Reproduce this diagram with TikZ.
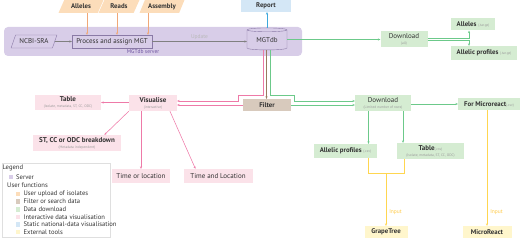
\documentclass[tikz,border=0pt]{standalone}
\usepackage{fontspec}
\setmainfont{PT Sans}
\usetikzlibrary{shapes.geometric,arrows.meta,positioning,calc}

\definecolor{srvfill}{HTML}{D8CDE8}
\definecolor{srvdraw}{HTML}{8A7AA6}
\definecolor{srvtext}{HTML}{6F55A0}
\definecolor{upfill}{HTML}{FCDDBA}
\definecolor{upline}{HTML}{F0A878}
\definecolor{fltfill}{HTML}{D8CABD}
\definecolor{fltline}{HTML}{9A7A60}
\definecolor{dlfill}{HTML}{D5ECD2}
\definecolor{dlline}{HTML}{6CC98A}
\definecolor{visfill}{HTML}{FBE2E9}
\definecolor{visline}{HTML}{EE7AA8}
\definecolor{repfill}{HTML}{D4E7F6}
\definecolor{repline}{HTML}{3DA8DC}
\definecolor{extfill}{HTML}{FFF6CC}
\definecolor{extline}{HTML}{FFD650}
\definecolor{txt}{HTML}{333333}
\definecolor{subgray}{HTML}{9A9A9A}

\newcommand{\smalltxt}[1]{{\fontsize{3.6pt}{4pt}\selectfont\mdseries\color{subgray}#1}}

\tikzset{
  lbl/.style={font=\fontsize{7pt}{7.5pt}\selectfont, text=txt, align=center, inner sep=0pt},
  hd/.style={font=\fontsize{6.8pt}{7.3pt}\selectfont\bfseries},
  box/.style={lbl, rectangle, minimum height=13pt},
  slant/.style={lbl, trapezium, trapezium left angle=55, trapezium right angle=125,
    trapezium stretches=true, minimum height=13pt},
  srvbox/.style={box, draw=srvdraw, fill=srvfill, line width=0.4pt},
  srvslant/.style={slant, draw=srvdraw, fill=srvfill, line width=0.4pt},
  upbox/.style={slant, hd, fill=upfill},
  fltbox/.style={box, hd, fill=fltfill},
  dlbox/.style={box, fill=dlfill},
  visbox/.style={box, fill=visfill},
  repbox/.style={box, hd, fill=repfill},
  extbox/.style={box, hd, fill=extfill},
  dbcyl/.style={lbl, cylinder, shape border rotate=90, aspect=0.18, draw=srvdraw,
    fill=srvfill, line width=0.4pt, minimum width=40pt, minimum height=22pt},
  band/.style={rectangle, rounded corners=4pt, fill=srvfill, minimum width=298pt,
    minimum height=29pt},
  note/.style={font=\fontsize{5.5pt}{6pt}\selectfont, inner sep=1pt},
  link/.style={line width=0.55pt, -{Stealth[length=2.4pt,width=2.2pt]}},
  plain/.style={line width=0.55pt},
  legsq/.style={rectangle, minimum size=4.5pt, inner sep=0pt},
  legtxt/.style={font=\fontsize{6.6pt}{7pt}\selectfont, inner sep=1pt, text=txt, anchor=west},
}

\begin{document}
\begin{tikzpicture}[x=1pt,y=-1pt]
\useasboundingbox (0,0) rectangle (520,238);

% server
\node[band] (server) at (153,41.5) {};
\node[note, text=srvtext] (serverlbl) at (143,52) {MGTdb server};

% uploads
\node[upbox, minimum width=45pt] (alleles) at (81,6.5) {Alleles};
\node[upbox, minimum width=41pt] (reads) at (119,6.5) {Reads};
\node[upbox, minimum width=45pt] (assembly) at (162,6.5) {Assembly};

\node[srvslant, minimum width=46pt] (ncbi) at (34,41.5) {NCBI-SRA};
\node[srvbox, minimum width=80pt] (process) at (112,41.5) {Process and assign MGT};
\node[dbcyl] (mgtdb) at (267,40) {MGTdb};
\node[repbox, minimum width=50pt] (report) at (266,5.5) {Report};

% downloads of everything
\node[dlbox, minimum width=47pt, minimum height=16pt] (dlall) at (404,39.5) {Download\\[-1.5pt]\smalltxt{(all)}};
\node[dlbox, hd, minimum width=44pt, minimum height=12pt] (allelestar) at (473,24.5) {Alleles \smalltxt{(.tar.gz)}};
\node[dlbox, hd, minimum width=66pt, minimum height=14pt] (profilestar) at (484,53) {Allelic profiles \smalltxt{(.tar.gz)}};

% filter and visualise
\node[fltbox, minimum width=48pt, minimum height=12pt] (filter) at (267,105) {Filter};
\node[visbox, minimum width=48pt, minimum height=16pt] (vis) at (153,103) {\textbf{Visualise}\\[-1.5pt]\smalltxt{(interactive)}};
\node[visbox, minimum width=66pt, minimum height=15pt] (tablevis) at (68,102.5) {\textbf{Table}\\[-1.5pt]\smalltxt{(Isolate, metadata, ST, CC, ODC)}};
\node[visbox, minimum width=88pt, minimum height=16pt] (breakdown) at (77,143) {\textbf{ST, CC or ODC breakdown}\\[-1.5pt]\smalltxt{(Metadata independent)}};
\node[visbox, minimum width=58pt, minimum height=14pt] (timeor) at (141,176) {Time or location};
\node[visbox, minimum width=69pt, minimum height=14pt] (timeand) at (218,176) {Time and Location};

% limited downloads
\node[dlbox, minimum width=56pt, minimum height=16pt] (dllim) at (383,103) {Download\\[-1.5pt]\smalltxt{(Limited number of rows)}};
\node[dlbox, hd, minimum width=62pt, minimum height=12pt] (micro) at (489,104) {For Microreact\smalltxt{(.csv)}};
\node[dlbox, hd, minimum width=63pt, minimum height=14pt] (profcsv) at (345.5,151) {Allelic profiles \smalltxt{(.csv)}};
\node[dlbox, minimum width=67pt, minimum height=16pt] (tablecsv) at (430.5,151) {\textbf{Table}\smalltxt{(.csv)}\\[-1.5pt]\smalltxt{(Isolate, metadata, ST, CC, ODC)}};

% external tools
\node[extbox, minimum width=43pt, minimum height=12pt] (grape) at (386,232) {GrapeTree};
\node[extbox, minimum width=49pt, minimum height=12pt] (microreact) at (487,232) {MicroReact};

% connectors
\draw[link, upline] ([xshift=6pt]alleles.south) -- ([xshift=6pt]alleles.south |- process.north);
\draw[link, upline] ([xshift=-2pt]reads.south) -- ([xshift=-2pt]reads.south |- process.north);
\draw[link, upline] ([xshift=-14pt]assembly.south) -- ([xshift=-14pt]assembly.south |- process.north);
\draw[link, gray] (ncbi) -- (process);
\draw[link, gray] (process.east) -- node[note, above=1pt, text=gray!55] {Update} (process.east -| mgtdb.west);
\draw[link, repline] (mgtdb.north) -- (mgtdb.north |- report.south);
\draw[link, dlline] (mgtdb.east |- dlall.west) -- (dlall.west);

\coordinate (jn) at (469,39.5);
\draw[link, dlline] ([yshift=1pt]dlall.east) -- ([yshift=1pt]jn) -- (jn |- allelestar.south);
\draw[link, dlline] ([yshift=-1pt]dlall.east) -- ([yshift=-1pt]jn) -- (jn |- profilestar.north);

\draw[link, fltline] ([xshift=-0.5pt]mgtdb.south) -- ([xshift=-0.5pt]mgtdb.south |- filter.north);

\coordinate (pk1) at (263,95);
\coordinate (pk2) at (238,101);
\draw[link, visline] (pk1 |- mgtdb.south) -- (pk1) -| (pk2) -- (pk2 -| vis.east);
\draw[link, visline] (filter.west) -- (filter.west -| vis.east);

\coordinate (gk1) at (270,95);
\coordinate (gk2) at (294,101);
\draw[link, dlline] (gk1 |- mgtdb.south) -- (gk1) -| (gk2) -- (gk2 -| dllim.west);
\draw[link, dlline] (filter.east) -- (filter.east -| dllim.west);

\draw[link, visline] (vis.west |- tablevis.east) -- (tablevis.east);
\draw[link, visline] (vis.south west) -- ($(breakdown.north)!0.62!(breakdown.north east)$);
\draw[link, visline] (timeor.north |- vis.south) -- (timeor.north);
\draw[link, visline] ($(vis.south)!0.7!(vis.south east)$) -- ($(timeand.north west)!0.35!(timeand.north)$);

\draw[link, dlline] (dllim.east |- micro.west) -- (micro.west);
\coordinate (pa) at (368.5,0);
\coordinate (ta) at (403,0);
\draw[link, dlline] (pa |- dllim.south) -- (pa |- profcsv.north);
\draw[link, dlline] (ta |- dllim.south) -- (ta |- tablecsv.north);

\coordinate (yj1) at (368.5,173);
\coordinate (yj2) at (404,173);
\coordinate (yj) at (386,173);
\draw[plain, extline] (yj1 |- profcsv.south) -- (yj1) -- (yj2) -- (yj2 |- tablecsv.south);
\draw[link, extline] (yj) -- node[note, pos=0.74, right=2pt, text=extline!85!orange] {Input} (grape.north);
\draw[link, extline] (microreact.north |- micro.south) -- node[note, pos=0.88, right=2pt, text=extline!85!orange] {Input} (microreact.north);

% legend
\node[rectangle, draw=gray!25, line width=0.4pt, minimum width=108pt, minimum height=74pt] (legend) at (56,200) {};
\node[legtxt] (legtitle) at (1.5,168) {Legend};
\node[legsq, fill=srvfill] (sqserver) at (11,177) {};
\node[legtxt, right=1.5pt of sqserver] {Server};
\node[legtxt] (legfun) at (6,185) {User functions};
\foreach \col/\txtl [count=\i] in {upfill/User upload of isolates, fltfill/Filter or search data,
    dlfill/Data download, visfill/Interactive data visualisation,
    repfill/Static national-data visualisation, extfill/External tools} {
  \node[legsq, fill=\col] (sq\i) at (18,186.5+7.6*\i) {};
  \node[legtxt, right=2pt of sq\i] {\txtl};
}
\end{tikzpicture}
\end{document}
